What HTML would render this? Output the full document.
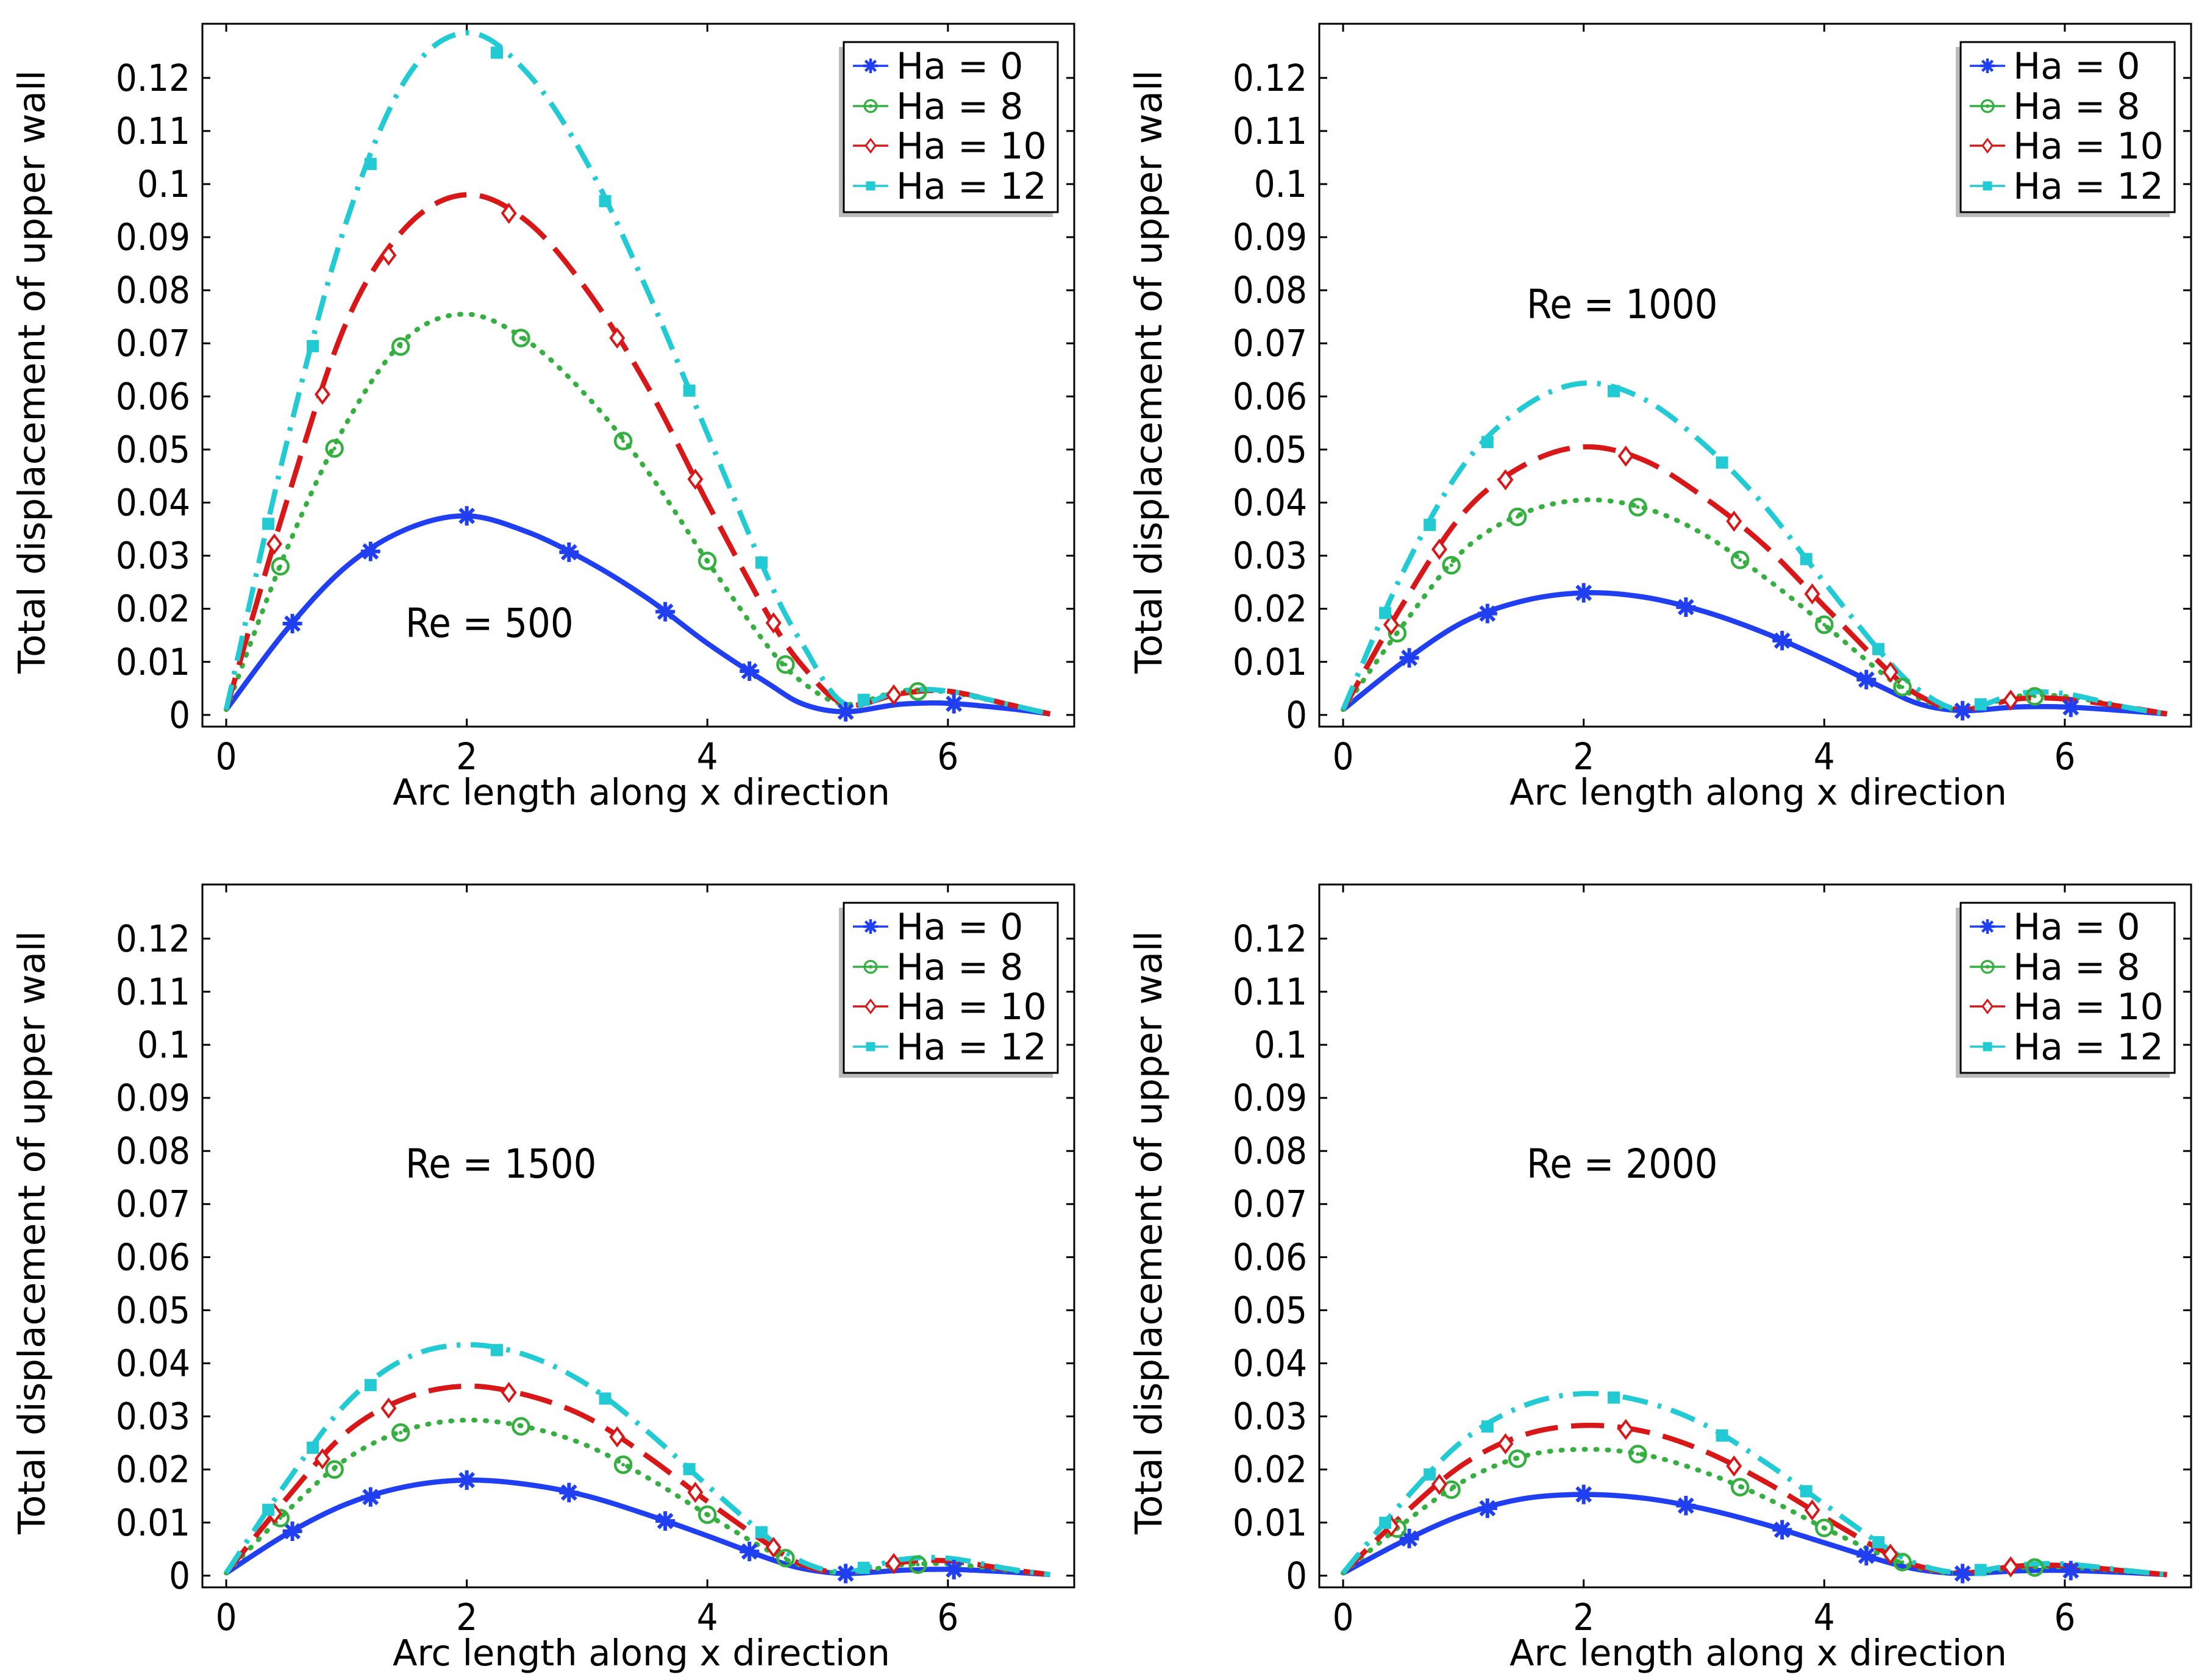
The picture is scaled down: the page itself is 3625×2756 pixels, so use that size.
<!DOCTYPE html>
<html><head><meta charset="utf-8"><style>
html,body{margin:0;padding:0;background:#fff}
svg{display:block}
text{font-family:"DejaVu Sans","Liberation Sans",sans-serif;fill:#000}
.cond{font-family:"DejaVu Sans Condensed","DejaVu Sans",sans-serif;font-stretch:condensed}
</style></head><body>
<svg id="chart" width="3625" height="2756" viewBox="0 0 3625 2756" xmlns="http://www.w3.org/2000/svg"></svg>
<script>
const xGrid=[0,0.5,1,1.5,2,2.5,3,3.5,4,4.5,4.8,5.15,5.6,6,6.5,6.85];
const seriesNames=["Ha = 0","Ha = 8","Ha = 10","Ha = 12"];
const reLabels=["Re = 500","Re = 1000","Re = 1500","Re = 2000"];
const yTicks=[0,0.01,0.02,0.03,0.04,0.05,0.06,0.07,0.08,0.09,0.1,0.11,0.12];
const yTickLabels=["0","0.01","0.02","0.03","0.04","0.05","0.06","0.07","0.08","0.09","0.1","0.11","0.12"];
const xTicks=[0,2,4,6];
const xTickLabels=["0","2","4","6"];
// Re = 500
const re500ha0=[0.001,0.016,0.028,0.035,0.0375,0.0345,0.029,0.022,0.0135,0.006,0.002,0.0006,0.002,0.0022,0.0012,0.0002];
const re500ha8=[0.001,0.031,0.055,0.071,0.0755,0.0705,0.06,0.046,0.029,0.013,0.006,0.002,0.0045,0.0043,0.002,0.0002];
const re500ha10=[0.001,0.04,0.074,0.092,0.098,0.093,0.08,0.062,0.04,0.019,0.009,0.002,0.004,0.0045,0.002,0.0002];
const re500ha12=[0.001,0.051,0.093,0.12,0.1285,0.121,0.104,0.08,0.053,0.026,0.013,0.002,0.0045,0.0045,0.002,0.0002];
// Re = 1000
const re1000ha0=[0.001,0.01,0.0175,0.0215,0.023,0.0222,0.0195,0.0155,0.0105,0.005,0.002,0.0008,0.0015,0.0015,0.0008,0.0002];
const re1000ha8=[0.001,0.017,0.031,0.038,0.0405,0.039,0.034,0.026,0.017,0.0075,0.003,0.001,0.0035,0.0035,0.0015,0.0002];
const re1000ha10=[0.001,0.021,0.038,0.047,0.0505,0.048,0.041,0.032,0.0205,0.009,0.0035,0.001,0.003,0.003,0.0015,0.0002];
const re1000ha12=[0.001,0.027,0.047,0.058,0.0625,0.0595,0.051,0.0395,0.025,0.011,0.0045,0.001,0.004,0.004,0.0015,0.0002];
// Re = 1500
const re1500ha0=[0.0005,0.0078,0.0135,0.0168,0.018,0.0172,0.015,0.0115,0.0075,0.0033,0.0013,0.0004,0.001,0.0012,0.0007,0.0002];
const re1500ha8=[0.0005,0.012,0.022,0.0275,0.0293,0.028,0.0245,0.0185,0.0115,0.0048,0.0018,0.0005,0.002,0.0022,0.001,0.0002];
const re1500ha10=[0.0005,0.0145,0.027,0.0335,0.0357,0.034,0.0298,0.0225,0.014,0.006,0.002,0.0006,0.0025,0.0028,0.0012,0.0002];
const re1500ha12=[0.0005,0.0175,0.0325,0.041,0.0435,0.0415,0.036,0.0272,0.017,0.0072,0.0025,0.0007,0.003,0.0033,0.0013,0.0002];
// Re = 2000
const re2000ha0=[0.0005,0.0065,0.0115,0.0145,0.0153,0.0146,0.0126,0.0097,0.0062,0.0027,0.0011,0.0004,0.0009,0.001,0.0006,0.0002];
const re2000ha8=[0.0005,0.0098,0.0178,0.0225,0.0238,0.0228,0.0195,0.0148,0.009,0.0037,0.0014,0.0004,0.0015,0.0016,0.0008,0.0002];
const re2000ha10=[0.0005,0.0115,0.021,0.0265,0.0283,0.0272,0.0235,0.0178,0.011,0.0045,0.0017,0.0005,0.0018,0.0019,0.0009,0.0002];
const re2000ha12=[0.0005,0.014,0.0255,0.032,0.0343,0.0328,0.0285,0.0215,0.0135,0.0055,0.002,0.0006,0.002,0.0022,0.001,0.0002];
// marker x positions
const markX0=[0.55,1.2,2.0,2.85,3.65,4.35,5.15,6.05];
const markX8=[0.45,0.9,1.45,2.45,3.3,4.0,4.65,5.75];
const markX10=[0.4,0.8,1.35,2.35,3.25,3.9,4.55,5.55];
const markX12=[0.35,0.72,1.2,2.25,3.15,3.85,4.45,5.3];

const panelData=[[re500ha0,re500ha8,re500ha10,re500ha12],[re1000ha0,re1000ha8,re1000ha10,re1000ha12],[re1500ha0,re1500ha8,re1500ha10,re1500ha12],[re2000ha0,re2000ha8,re2000ha10,re2000ha12]];
const markXs=[markX0,markX8,markX10,markX12];
const colors=["#1f3ff0","#35b040","#d81818","#22cad4"];
const dashes=["none","2 17","54 22","42 17 6 17"];
const widths=[8.5,8,8.5,8.5];
const NS="http://www.w3.org/2000/svg";
const svg=document.getElementById('chart');
function mk(tag,attrs,parent){const e=document.createElementNS(NS,tag);for(const k in attrs)e.setAttribute(k,attrs[k]);(parent||svg).appendChild(e);return e;}
const offsets=[[0,0],[1832,0],[0,1412],[1832,1412]];
const X0=-0.198,X1=7.05,Y0=-0.0022,Y1=0.1302;
function interp(arr,x){for(let i=0;i<xGrid.length-1;i++){if(x<=xGrid[i+1]){const t=(x-xGrid[i])/(xGrid[i+1]-xGrid[i]);return arr[i]+(arr[i+1]-arr[i])*t;}}return arr[arr.length-1];}
function smoothPath(pts){let d="M"+pts[0][0].toFixed(1)+","+pts[0][1].toFixed(1);for(let i=0;i<pts.length-1;i++){const p0=pts[Math.max(0,i-1)],p1=pts[i],p2=pts[i+1],p3=pts[Math.min(pts.length-1,i+2)];const c1=[p1[0]+(p2[0]-p0[0])/6,p1[1]+(p2[1]-p0[1])/6],c2=[p2[0]-(p3[0]-p1[0])/6,p2[1]-(p3[1]-p1[1])/6];d+=" C"+c1[0].toFixed(1)+","+c1[1].toFixed(1)+" "+c2[0].toFixed(1)+","+c2[1].toFixed(1)+" "+p2[0].toFixed(1)+","+p2[1].toFixed(1);}return d;}
function marker(g,s,cx,cy,legend){const c=colors[s];const k=legend?0.75:1;
 if(s===0){const r=16*k;const m=mk('g',{stroke:c,'stroke-width':6*k},g);
  for(let a=0;a<4;a++){const an=a*Math.PI/4+Math.PI/2;mk('line',{x1:cx-r*Math.cos(an),y1:cy-r*Math.sin(an),x2:cx+r*Math.cos(an),y2:cy+r*Math.sin(an)},m);}}
 else if(s===1){const m=mk('circle',{cx:cx,cy:cy,r:13*k,fill:'none',stroke:c,'stroke-width':4.5*k},g);mk('circle',{cx:cx,cy:cy,r:3,fill:c},g);}
 else if(s===2){const r=14*k;const m=mk('polygon',{points:`${cx},${cy-r} ${cx+r*0.75},${cy} ${cx},${cy+r} ${cx-r*0.75},${cy}`,fill:'#fff',stroke:c,'stroke-width':4*k},g);}
 else {const r=10*k;const m=mk('rect',{x:cx-r,y:cy-r,width:2*r,height:2*r,fill:c},g);}}
for(let p=0;p<4;p++){
 const ox=offsets[p][0],oy=offsets[p][1];
 const L=332+ox,R=1762+ox,T=39+oy,B=1192+oy;
 const sx=v=>L+(v-X0)/(X1-X0)*(R-L);
 const sy=v=>B-(v-Y0)/(Y1-Y0)*(B-T);
 const g=mk('g',{});
 
 
 const frame=mk('rect',{x:L,y:T,width:R-L,height:B-T,fill:'#fff',stroke:'#000','stroke-width':3},g);
 
 
 yTicks.forEach((v,i)=>{const y=sy(v);mk('line',{x1:L,y1:y,x2:L+13,y2:y,stroke:'#000','stroke-width':3},g);mk('line',{x1:R,y1:y,x2:R-13,y2:y,stroke:'#000','stroke-width':3},g);
  const t=mk('text',{x:L-20,y:y+21,'text-anchor':'end','font-size':61,class:'cond'},g);t.textContent=yTickLabels[i];
  
  });
 xTicks.forEach((v,i)=>{const x=sx(v);mk('line',{x1:x,y1:B,x2:x,y2:B-13,stroke:'#000','stroke-width':3},g);mk('line',{x1:x,y1:T,x2:x,y2:T+13,stroke:'#000','stroke-width':3},g);
  const t=mk('text',{x:x,y:B+70,'text-anchor':'middle','font-size':61,class:'cond'},g);t.textContent=xTickLabels[i];
  
  });
 const xl=mk('text',{x:1052+ox,y:1320+oy,'text-anchor':'middle','font-size':59},g);xl.textContent='Arc length along x direction';
 
 
 const yl=mk('text',{x:0,y:0,'text-anchor':'middle','font-size':61,transform:`translate(${73+ox},${610+oy}) rotate(-90)`},g);yl.textContent='Total displacement of upper wall';
 
 
 for(let s=0;s<4;s++){
  const arr=panelData[p][s];
  const pts=xGrid.map((x,i)=>[sx(x),sy(arr[i])]);
  const path=mk('path',{d:smoothPath(pts),fill:'none',stroke:colors[s],'stroke-width':widths[s],'stroke-dasharray':dashes[s],'stroke-linecap':s===1?'round':'butt'},g);
  
  
 }
 for(let s=0;s<4;s++){const arr=panelData[p][s];markXs[s].forEach(x=>marker(g,s,sx(x),sy(interp(arr,x)),false));}
 const re=mk('text',{x:[665,2504-1832,665,2504-1832][p]+ox,y:[1045,522,1932,1932][p]+(p>=2?-1412+oy:0),'font-size':66,class:'cond'},g);re.textContent=reLabels[p];
 
 
 // legend
 const lg=mk('g',{},g);
 
 
 mk('rect',{x:1376+ox,y:77+oy,width:351,height:279,fill:'#bbb'},lg);
 mk('rect',{x:1384+ox,y:69+oy,width:351,height:279,fill:'#fff',stroke:'#000','stroke-width':3},lg);
 const rowsY=[108,174,239,305];
 for(let s=0;s<4;s++){const y=rowsY[s]+oy;
  const e=mk('g',{},lg);
  
  
  mk('line',{x1:1399+ox,y1:y,x2:1457+ox,y2:y,stroke:colors[s],'stroke-width':3.5},e);
  marker(e,s,1428+ox,y,true);
  const t=mk('text',{x:1470+ox,y:y+21,'font-size':60},e);t.textContent=seriesNames[s];
  
  }
}
</script>
</body></html>
